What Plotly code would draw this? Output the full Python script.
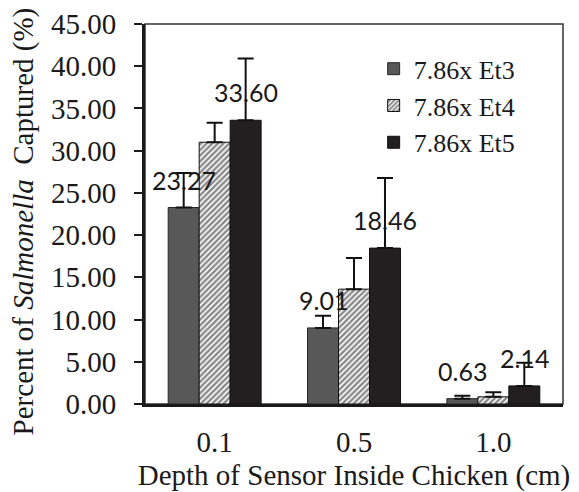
import plotly.graph_objects as go

categories = ["0.1", "0.5", "1.0"]
series_names = ["7.86x Et3", "7.86x Et4", "7.86x Et5"]
et3 = [23.27, 9.01, 0.63]
et4 = [31.0, 13.6, 0.85]
et5 = [33.60, 18.46, 2.14]
err3 = [4.1, 1.45, 0.35]
err4 = [2.3, 3.7, 0.55]
err5 = [7.3, 8.3, 2.75]
labelled = {0: et3, 2: et5}

SERIF = "Liberation Serif"
SANS = "Lato"

fig = go.Figure()
styles = [
    dict(color="#585858", line=dict(color="#262626", width=1)),
    dict(color="white", line=dict(color="#111111", width=1),
         pattern=dict(shape="/", fgcolor="#111111", bgcolor="white", size=4, solidity=0.6)),
    dict(color="#231f20", line=dict(color="#111111", width=1)),
]
for name, vals, errs, st in zip(series_names, [et3, et4, et5], [err3, err4, err5], styles):
    fig.add_trace(go.Bar(
        x=categories, y=vals, name=name, marker=st,
        error_y=dict(type="data", symmetric=False, array=errs,
                     arrayminus=[0] * len(errs), color="#111111",
                     thickness=2, width=8),
    ))

shift = {0: -31, 2: 31}
for idx, vals in labelled.items():
    for i, v in enumerate(vals):
        fig.add_annotation(x=i, y=v, xref="x", yref="y", text=f"{v:.2f}",
                           showarrow=False, xshift=shift[idx], yshift=28,
                           xanchor="center", yanchor="middle",
                           font=dict(family=SANS, size=25, color="#1a1a1a"))

fig.add_annotation(xref="paper", yref="paper", x=-0.29, y=0.48,
                   xanchor="center", yanchor="middle",
                   text="Percent of <i>Salmonella</i>  Captured (%)",
                   textangle=-90, showarrow=False,
                   font=dict(family=SERIF, size=29, color="#1a1a1a"))

fig.add_shape(type="rect", xref="paper", yref="paper", x0=0, y0=0, x1=1, y1=1,
              line=dict(color="#333333", width=1.5), layer="below")

fig.update_layout(
    width=579, height=492,
    font=dict(family=SERIF, size=29, color="#1a1a1a"),
    margin=dict(l=145, r=16, t=24, b=88),
    paper_bgcolor="white", plot_bgcolor="white",
    barmode="group", bargap=0.333, bargroupgap=0,
    showlegend=True,
    legend=dict(x=0.547, y=0.944, xanchor="left", yanchor="top",
                font=dict(family=SERIF, size=26, color="#1a1a1a"),
                bgcolor="rgba(0,0,0,0)", tracegroupgap=0),
    xaxis=dict(type="category", showline=True, linecolor="#1a1a1a", linewidth=3,
               ticks="", showgrid=False, ticklabelstandoff=10, automargin=False,
               tickfont=dict(family=SERIF, size=29, color="#1a1a1a"),
               title=dict(text="Depth of Sensor Inside Chicken (cm)",
                          font=dict(family=SERIF, size=29, color="#1a1a1a"),
                          standoff=8)),
    yaxis=dict(range=[0, 45], dtick=5, tickformat=".2f", showline=True,
               linecolor="#1a1a1a", linewidth=3, ticks="outside", ticklen=8,
               tickwidth=2, tickcolor="#1a1a1a", showgrid=False, zeroline=False,
               ticklabelstandoff=12, automargin=False,
               tickfont=dict(family=SERIF, size=29, color="#1a1a1a")),
)

fig.write_html("out.html", config={"displayModeBar": False},
               post_script="document.body.style.margin='0';")
